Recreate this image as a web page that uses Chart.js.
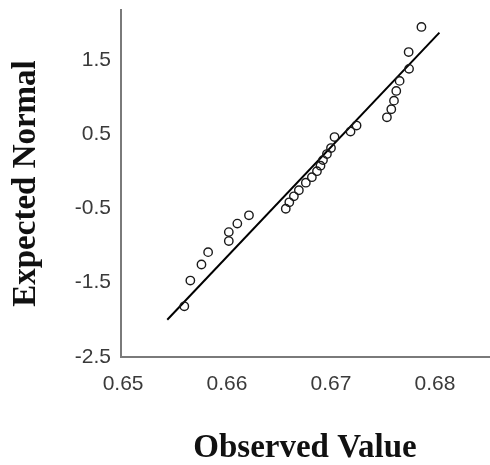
<!DOCTYPE html>
<html>
<head>
<meta charset="utf-8">
<title>Normal Q-Q Plot</title>
<script src="https://cdn.jsdelivr.net/npm/chart.js@4.4.0/dist/chart.umd.min.js"></script>
<style>
  html, body { margin: 0; padding: 0; background: #fff; }
  #qq { display: block; }
</style>
</head>
<body>
<canvas id="qq" width="490" height="465"></canvas>
<script>
// observed values (sorted) and their expected normal scores
const observed = [
  0.65589, 0.65647, 0.65754, 0.65818, 0.66017, 0.66017, 0.66099, 0.66211,
  0.66565, 0.66599, 0.66643, 0.66691, 0.66758, 0.66816, 0.66865, 0.66899,
  0.66923, 0.66961, 0.67000, 0.67034, 0.67188, 0.67246,
  0.67538, 0.67580, 0.67606, 0.67628, 0.67660, 0.67751, 0.67747, 0.67870
];
const expected = [
  -1.818, -1.471, -1.255, -1.089, -0.940, -0.819, -0.705, -0.593,
  -0.505, -0.418, -0.337, -0.256, -0.154, -0.080, 0.001, 0.075,
  0.150, 0.231, 0.312, 0.460, 0.534, 0.615,
  0.726, 0.834, 0.950, 1.081, 1.216, 1.378, 1.604, 1.942
];

// fitted normal line (two ends)
const lineX = [0.65425, 0.68043];
const lineY = [-1.998, 1.865];

const xTicks = [0.65, 0.66, 0.67, 0.68];
const yTicks = [-2.5, -1.5, -0.5, 0.5, 1.5];

const pts = observed.map((v, i) => ({ x: v, y: expected[i] }));
const linePts = lineX.map((v, i) => ({ x: v, y: lineY[i] }));

const tickFont = { family: 'Liberation Sans', size: 21 };
const titleFont = { family: 'Liberation Serif', size: 33, weight: 'bold', lineHeight: 1 };

new Chart(document.getElementById('qq'), {
  type: 'scatter',
  data: {
    datasets: [
      {
        data: pts,
        pointStyle: 'circle',
        pointRadius: 4.2,
        pointBorderWidth: 1.4,
        pointBorderColor: '#1a1a1a',
        pointBackgroundColor: 'rgba(0,0,0,0)',
        showLine: false
      },
      {
        data: linePts,
        showLine: true,
        borderColor: '#000',
        borderWidth: 2,
        pointRadius: 0
      }
    ]
  },
  options: {
    responsive: false,
    animation: false,
    devicePixelRatio: 1,
    layout: { autoPadding: false, padding: { top: 10, right: 1, left: 0, bottom: 0 } },
    plugins: { legend: { display: false }, tooltip: { enabled: false } },
    scales: {
      x: {
        type: 'linear',
        min: 0.6498,
        max: 0.6852,
        afterBuildTicks: s => { s.ticks = xTicks.map(v => ({ value: v })); },
        afterFit: s => {
          s.height = 108;
          s.paddingLeft = 0;
          s.paddingRight = 0;
        },
        grid: { display: false, drawTicks: false },
        border: { display: true, color: '#7a7a7a', width: 2 },
        ticks: {
          padding: 15,
          color: '#3a3a3a',
          font: tickFont,
          maxRotation: 0,
          callback: v => v.toFixed(2)
        },
        title: {
          display: true,
          text: 'Observed Value',
          color: '#111',
          font: titleFont,
          padding: { top: 0, bottom: 0 }
        }
      },
      y: {
        type: 'linear',
        min: -2.5,
        max: 2.17,
        afterBuildTicks: s => { s.ticks = yTicks.map(v => ({ value: v })); },
        afterFit: s => {
          s.width = 121;
          s.paddingTop = 0;
          s.paddingBottom = 0;
        },
        grid: { display: false, drawTicks: false },
        border: { display: true, color: '#7a7a7a', width: 2 },
        ticks: {
          padding: 10,
          color: '#3a3a3a',
          font: tickFont,
          callback: v => v.toFixed(1)
        },
        title: {
          display: true,
          text: 'Expected Normal',
          color: '#111',
          font: titleFont,
          padding: { top: 10, bottom: 0 }
        }
      }
    }
  }
});
</script>
</body>
</html>
